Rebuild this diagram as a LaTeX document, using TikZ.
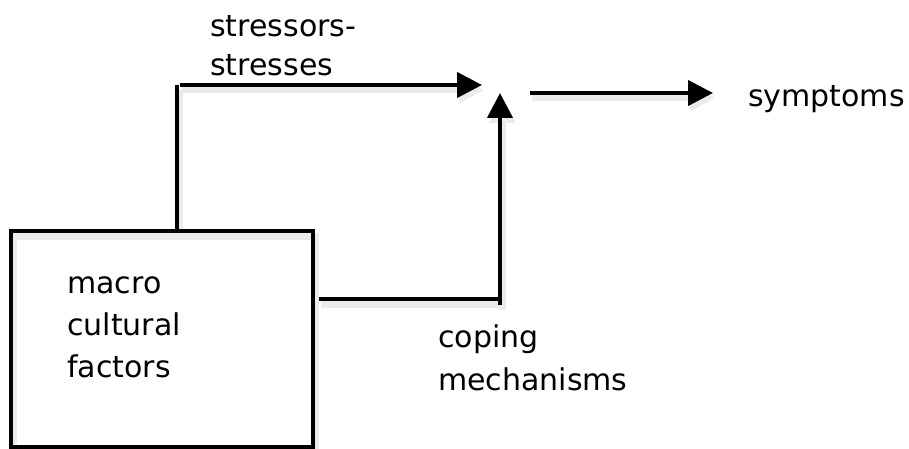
\documentclass[tikz,border=0pt]{standalone}
\usepackage{fontspec}
\setmainfont{DejaVu Sans}
\usetikzlibrary{arrows.meta}
\begin{document}
\begin{tikzpicture}[x=1pt,y=-1pt,
  ln/.style={line width=4.2pt, draw=black},
  shad/.style={preaction={draw=black!8, line width=7pt, transform canvas={shift={(2pt,-5pt)}}}},
  arr/.style={-{Triangle[length=25pt,width=25pt]}},
  lbl/.style={anchor=base west, inner sep=0pt, align=left}]
\useasboundingbox (0,0) rectangle (909,449);
\coordinate (up) at (177,231);
\coordinate (corner) at (177,85);
\coordinate (j) at (500,93);
\coordinate (jin) at (482,85);
\coordinate (lows) at (319,299);
\coordinate (low) at (500,299);
\coordinate (outs) at (530,93);
\coordinate (oute) at (713,93);
\draw[ln, shad, line cap=butt] (up) -- (corner);
\node[ln, shad, rectangle, minimum width=302pt, minimum height=216pt, inner sep=0pt] (box) at (162,339) {};
\node[lbl, font=\fontsize{30}{39}\selectfont] (stress) at (210,76) {stressors-\\stresses};
\node[lbl, font=\fontsize{30}{42}\selectfont] (sym) at (748,107) {symptoms};
\node[lbl, font=\fontsize{30}{43}\selectfont] (cope) at (438,390) {coping\\mechanisms};
\node[lbl, font=\fontsize{30}{42}\selectfont] (macro) at (67,377) {macro\\cultural\\factors};
\draw[ln, shad, arr] (180,85) -- (jin);
\draw[ln, shad] (lows) -- (low);
\draw[ln, shad, arr] (500,305) -- (j);
\draw[ln, shad, arr] (outs) -- (oute);
\end{tikzpicture}
\end{document}
